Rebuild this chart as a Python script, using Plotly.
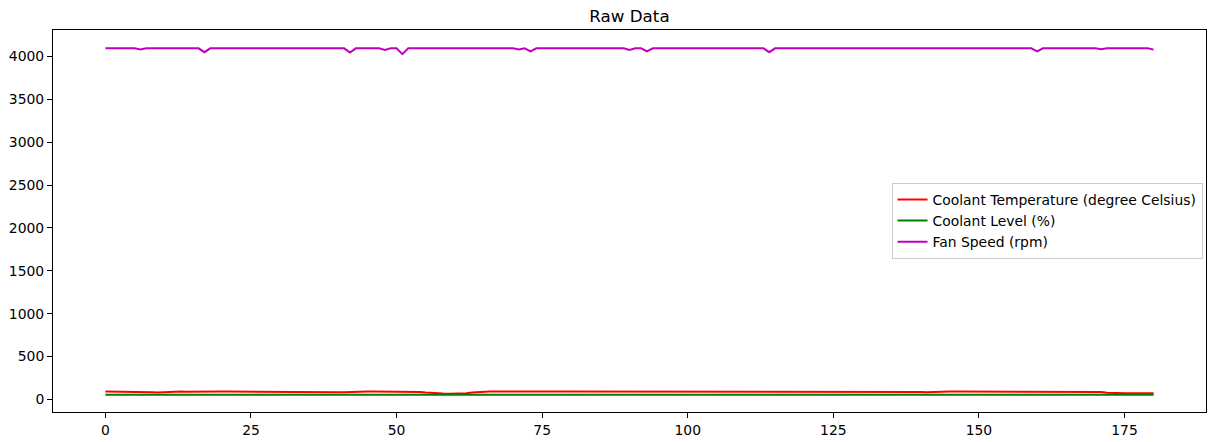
import plotly.graph_objects as go

# Sample index (one reading per row)
sample_index = list(range(181))

# Coolant temperature (degree Celsius)
coolant_temperature = [
    92, 92, 92, 92, 91, 91, 90, 88, 84, 80,
    84, 88, 90, 91, 90, 89, 90, 91, 92, 92,
    91, 92, 92, 91, 91, 92, 92, 92, 91, 91,
    90, 90, 91, 91, 90, 90, 91, 92, 92, 88,
    84, 82, 86, 90, 91, 92, 92, 92, 92, 91,
    91, 92, 92, 90, 86, 80, 74, 70, 68, 66,
    66, 68, 72, 80, 86, 90, 92, 92, 91, 91,
    92, 92, 92, 90, 89, 90, 91, 92, 92, 91,
    90, 90, 92, 93, 92, 91, 92, 92, 92, 91,
    91, 92, 92, 92, 91, 91, 90, 88, 86, 88,
    90, 91, 92, 92, 91, 91, 92, 92, 92, 91,
    90, 91, 92, 92, 92, 91, 91, 92, 92, 91,
    90, 91, 92, 92, 91, 89, 88, 90, 92, 92,
    91, 91, 92, 92, 92, 91, 90, 90, 91, 88,
    85, 84, 88, 91, 92, 92, 91, 91, 92, 92,
    92, 91, 91, 92, 92, 92, 91, 91, 90, 91,
    92, 92, 92, 91, 91, 92, 92, 91, 91, 90,
    90, 86, 78, 74, 72, 72, 72, 72, 72, 72,
    72,
]

# Coolant level (%)
coolant_level = [55] * 181

# Fan speed (rpm)
fan_speed = [
    4095, 4095, 4095, 4095, 4095, 4095, 4082, 4095, 4095, 4095,
    4095, 4095, 4095, 4095, 4095, 4095, 4095, 4050, 4095, 4095,
    4095, 4095, 4095, 4095, 4095, 4095, 4095, 4095, 4095, 4095,
    4095, 4095, 4095, 4095, 4095, 4095, 4095, 4095, 4095, 4095,
    4095, 4095, 4045, 4095, 4095, 4095, 4095, 4095, 4075, 4095,
    4095, 4028, 4095, 4095, 4095, 4095, 4095, 4095, 4095, 4095,
    4095, 4095, 4095, 4095, 4095, 4095, 4095, 4095, 4095, 4095,
    4095, 4082, 4095, 4060, 4095, 4095, 4095, 4095, 4095, 4095,
    4095, 4095, 4095, 4095, 4095, 4095, 4095, 4095, 4095, 4095,
    4075, 4095, 4095, 4060, 4095, 4095, 4095, 4095, 4095, 4095,
    4095, 4095, 4095, 4095, 4095, 4095, 4095, 4095, 4095, 4095,
    4095, 4095, 4095, 4095, 4050, 4095, 4095, 4095, 4095, 4095,
    4095, 4095, 4095, 4095, 4095, 4095, 4095, 4095, 4095, 4095,
    4095, 4095, 4095, 4095, 4095, 4095, 4095, 4095, 4095, 4095,
    4095, 4095, 4095, 4095, 4095, 4095, 4095, 4095, 4095, 4095,
    4095, 4095, 4095, 4095, 4095, 4095, 4095, 4095, 4095, 4095,
    4060, 4095, 4095, 4095, 4095, 4095, 4095, 4095, 4095, 4095,
    4095, 4084, 4095, 4095, 4095, 4095, 4095, 4095, 4095, 4095,
    4080,
]

x_ticks = [0, 25, 50, 75, 100, 125, 150, 175]
y_ticks = [0, 500, 1000, 1500, 2000, 2500, 3000, 3500, 4000]

FONT = "DejaVu Sans, sans-serif"

fig = go.Figure()
fig.add_trace(go.Scatter(x=sample_index, y=coolant_temperature, mode="lines",
                         name="Coolant Temperature (degree Celsius)",
                         line=dict(color="#ff0000", width=2)))
fig.add_trace(go.Scatter(x=sample_index, y=coolant_level, mode="lines",
                         name="Coolant Level (%)",
                         line=dict(color="#008000", width=2)))
fig.add_trace(go.Scatter(x=sample_index, y=fan_speed, mode="lines",
                         name="Fan Speed (rpm)",
                         line=dict(color="#bf00bf", width=2)))

axis_common = dict(
    showline=True, mirror=True, linecolor="black", linewidth=1,
    ticks="outside", ticklen=5, tickwidth=1, tickcolor="black",
    showgrid=False, zeroline=False,
    tickfont=dict(family=FONT, size=13.9, color="black"),
)

fig.update_layout(
    width=1211, height=442,
    margin=dict(l=53, r=4, t=30, b=27),
    paper_bgcolor="white", plot_bgcolor="white",
    title=dict(text="Raw Data", x=0.5, xanchor="center", xref="paper",
               y=1 - 16 / 442, yanchor="middle",
               font=dict(family=FONT, size=16.7, color="black")),
    xaxis=dict(range=[-9, 189], tickvals=x_ticks, **axis_common),
    yaxis=dict(range=[-147, 4309], tickvals=y_ticks, **axis_common),
    legend=dict(x=0.997, y=0.5, xanchor="right", yanchor="middle",
                bordercolor="#cccccc", borderwidth=1, bgcolor="white",
                font=dict(family=FONT, size=13.9, color="black"),
                itemwidth=30, tracegroupgap=0),
    showlegend=True,
)

fig.write_html("out.html")
